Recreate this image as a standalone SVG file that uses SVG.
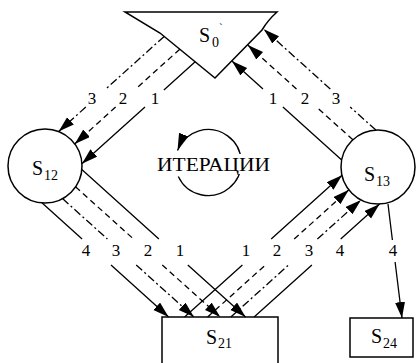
<svg xmlns="http://www.w3.org/2000/svg" width="418" height="363" viewBox="0 0 418 363">
<style>
.shape{fill:#fff;stroke:#000;stroke-width:1.5}
.ln{fill:none;stroke:#000;stroke-width:1.3}
.solid{marker-end:url(#ah)}
.dash{stroke-dasharray:6 4;marker-end:url(#ah)}
.dd{stroke-dasharray:8 3 2 3;marker-end:url(#ah)}
.lbl{font-family:"Liberation Serif","Times New Roman",serif;font-size:20px;fill:#000}
.sub{font-size:14px}
.num{font-family:"Liberation Serif","Times New Roman",serif;font-size:17px;fill:#000;text-anchor:middle}
</style>
<defs>
<marker id="ah" markerUnits="userSpaceOnUse" markerWidth="17" markerHeight="11" refX="16" refY="5" orient="auto">
<path d="M0,0 L16,5 L0,10 Z" fill="#000"/>
</marker>
<marker id="ahc" markerUnits="userSpaceOnUse" markerWidth="18" markerHeight="12" refX="17" refY="5" orient="auto">
<path d="M0,0 L17,5 L0,10 Z" fill="#000"/>
</marker>
</defs>
<rect width="418" height="363" fill="#fff"/>

<g id="S0">
<path class="shape" d="M125,12 L277,12 Q268,20 262,30 L215,78 L160,33 Z"/>
<text class="lbl" x="199" y="42">S<tspan class="sub" x="212" y="47">0</tspan></text>
<text class="lbl" x="219" y="31" style="font-size:11px">`</text>
</g>
<g id="S12">
<circle class="shape" cx="45" cy="166" r="37"/>
<text class="lbl" x="32" y="175">S<tspan class="sub" x="44" y="180">12</tspan></text>
</g>
<g id="S13">
<circle class="shape" cx="378" cy="167" r="37"/>
<text class="lbl" x="364" y="181">S<tspan class="sub" x="376" y="186">13</tspan></text>
</g>
<g id="S21">
<rect class="shape" x="162" y="317" width="116" height="60"/>
<text class="lbl" x="206" y="344">S<tspan class="sub" x="218" y="348">21</tspan></text>
</g>
<g id="S24">
<rect class="shape" x="350" y="318" width="63" height="39"/>
<text class="lbl" x="371" y="343">S<tspan class="sub" x="383" y="348">24</tspan></text>
</g>

<g id="connectors">
<path class="ln solid" d="M195.2,61.8 L163.9,90 M145,107 L81.9,163.7"/>
<path class="ln dash" d="M179.8,49.2 L135.6,89 M115.6,107 L74.7,144"/>
<path class="ln dd" d="M164.2,36.4 L105.8,89 M85.8,107 L58.6,131.6"/>

<path class="ln solid" d="M341.7,159.9 L282.9,107 M263,89 L231.9,61.1"/>
<path class="ln dash" d="M352.9,139.8 L316.5,107 M296.5,89 L247.8,45.1"/>
<path class="ln dd" d="M375.9,130.1 L350.2,107 M330.3,89 L263.8,29.2"/>

<path class="ln solid" d="M81.8,169.6 L158.9,239 M187.8,265 L245.6,317"/>
<path class="ln dash" d="M75.5,186.8 L133.5,239 M162.3,265 L220.2,317"/>
<path class="ln dd" d="M62.5,198.6 L107.4,239 M136.2,265 L194,317"/>
<path class="ln solid" d="M41.9,202.8 L82.1,239 M111,265 L168.6,317"/>

<path class="ln solid" d="M184.6,317 L242.4,265 M271.2,239 L342,175.2"/>
<path class="ln dash" d="M207.6,317 L265.4,265 M294.2,239 L348.9,189.8"/>
<path class="ln dd" d="M230.8,317 L288.6,265 M317.4,239 L361,199.9"/>
<path class="ln solid" d="M254.1,317 L311.9,265 M340.7,239 L379.6,204"/>

<path class="ln solid" d="M388,204 L392.4,240 M395.1,262 L402,318"/>
</g>

<g id="labels">
<text class="num" x="92" y="104">3</text>
<text class="num" x="123" y="104">2</text>
<text class="num" x="155" y="104">1</text>
<text class="num" x="273" y="104">1</text>
<text class="num" x="305" y="104">2</text>
<text class="num" x="336" y="104">3</text>
<text class="num" x="86" y="256">4</text>
<text class="num" x="116" y="256">3</text>
<text class="num" x="148" y="256">2</text>
<text class="num" x="180" y="256">1</text>
<text class="num" x="246" y="256">1</text>
<text class="num" x="277" y="256">2</text>
<text class="num" x="309" y="256">3</text>
<text class="num" x="340" y="256">4</text>
<text class="num" x="393" y="256">4</text>
</g>

<g id="iterations">
<path class="ln" d="M178.3,176.5 A33,33 0 1 0 177.5,150.5" marker-end="url(#ahc)"/>
<rect x="155" y="154" width="118" height="20" fill="#fff"/>
<text x="157" y="171" textLength="113" lengthAdjust="spacingAndGlyphs" style="font-family:'Liberation Serif','Times New Roman',serif;font-size:19px;fill:#000">ИТЕРАЦИИ</text>
</g>
</svg>
